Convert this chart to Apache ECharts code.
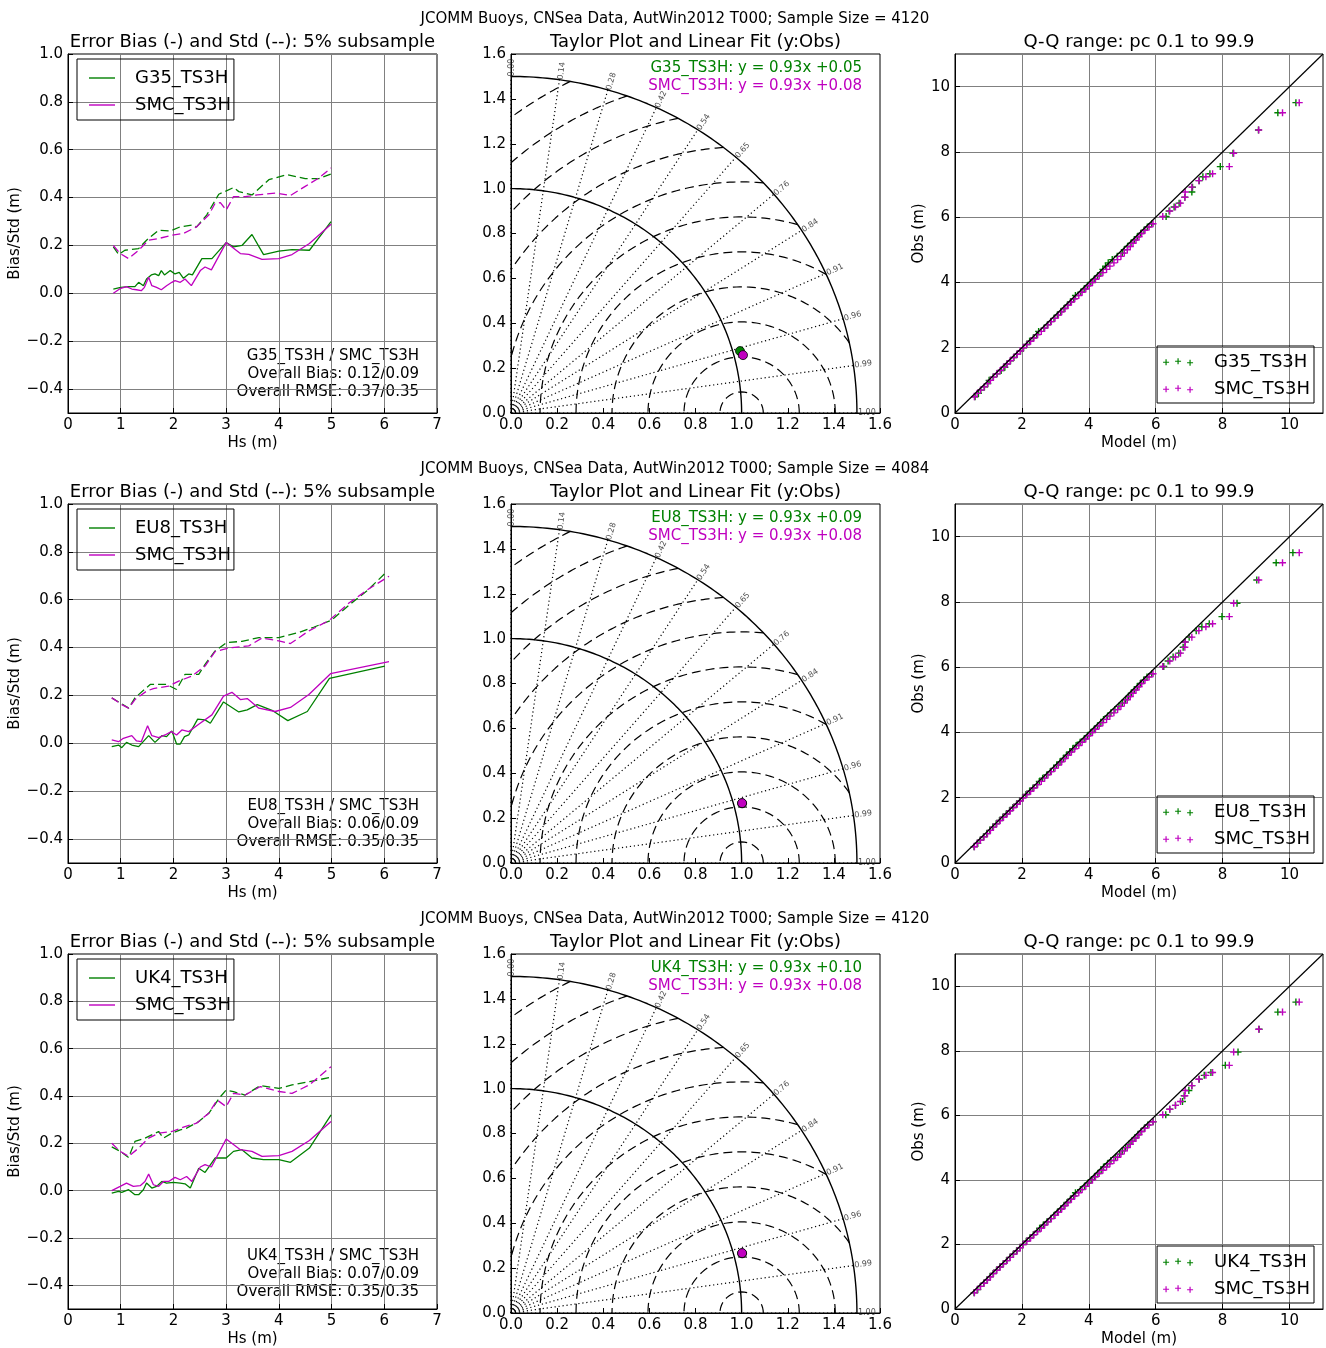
<!DOCTYPE html>
<html>
<head>
<meta charset="utf-8">
<script src="https://cdn.jsdelivr.net/npm/echarts@6/dist/echarts.min.js"></script>
<style>
  html, body { margin: 0; padding: 0; background: #fff; }
  #main { width: 1326px; height: 1348px; }
</style>
</head>
<body>
<div id="main"></div>
<script>
var chartDom = document.getElementById('main');
var myChart = echarts.init(chartDom);
var option;

// ---- labels and summary numbers ----
var rowModels = ['G35_TS3H', 'EU8_TS3H', 'UK4_TS3H'];
var refModel = 'SMC_TS3H';
var sampleSizes = [4120, 4084, 4120];
var overallBias = [['0.12', '0.09'], ['0.06', '0.09'], ['0.07', '0.09']];
var overallRmse = [['0.37', '0.35'], ['0.35', '0.35'], ['0.35', '0.35']];
var fitSlope = [['0.93', '0.93'], ['0.93', '0.93'], ['0.93', '0.93']];
var fitOffset = [['0.05', '0.08'], ['0.09', '0.08'], ['0.10', '0.08']];

// ---- tick labels ----
var biasTicks = [-0.4, -0.2, 0, 0.2, 0.4, 0.6, 0.8, 1.0];
var qqTicks = [0, 2, 4, 6, 8, 10];
var corrTicks = ['0.00', '0.14', '0.28', '0.42', '0.54', '0.65', '0.76', '0.84', '0.91', '0.96', '0.99', '1.00'];
var stdArcs = [1.0, 1.5];
var rmsArcs = [0.094, 0.25, 0.406, 0.562, 0.718, 0.874, 1.03, 1.186, 1.342, 1.498, 1.654];

// ---- row 1: bias / std against Hs ----
var biasG35 = [[0.86,0.018],[1.0,0.025],[1.15,0.028],[1.27,0.028],[1.34,0.046],[1.43,0.032],[1.49,0.06],[1.58,0.077],[1.65,0.081],[1.72,0.074],[1.77,0.095],[1.83,0.077],[1.94,0.095],[2.03,0.081],[2.11,0.088],[2.19,0.063],[2.29,0.081],[2.36,0.077],[2.54,0.145],[2.73,0.145],[3.0,0.212],[3.14,0.194],[3.30,0.20],[3.49,0.246],[3.71,0.162],[4.0,0.176],[4.25,0.183],[4.58,0.18],[4.99,0.30]];
var biasSMC1 = [[0.86,0.0],[1.0,0.021],[1.11,0.028],[1.21,0.018],[1.30,0.015],[1.39,0.011],[1.45,0.025],[1.53,0.067],[1.59,0.032],[1.68,0.025],[1.77,0.015],[1.87,0.032],[1.97,0.046],[2.03,0.053],[2.13,0.046],[2.22,0.06],[2.34,0.032],[2.51,0.095],[2.60,0.11],[2.72,0.098],[3.0,0.212],[3.27,0.166],[3.43,0.163],[3.68,0.142],[4.0,0.145],[4.25,0.162],[4.58,0.208],[4.99,0.289]];
var stdG35 = [[0.86,0.194],[0.96,0.162],[1.08,0.18],[1.34,0.187],[1.49,0.222],[1.72,0.264],[1.94,0.26],[2.13,0.278],[2.35,0.285],[2.44,0.278],[2.63,0.327],[2.86,0.414],[3.14,0.442],[3.24,0.425],[3.49,0.411],[3.81,0.475],[4.16,0.496],[4.50,0.479],[4.76,0.479],[4.99,0.499]];
var stdSMC1 = [[0.86,0.2],[0.99,0.166],[1.15,0.145],[1.34,0.18],[1.53,0.222],[1.72,0.229],[1.97,0.243],[2.19,0.25],[2.44,0.278],[2.67,0.327],[2.79,0.376],[2.89,0.379],[3.0,0.348],[3.14,0.404],[3.36,0.404],[3.59,0.411],[3.93,0.419],[4.22,0.409],[4.50,0.447],[4.76,0.482],[4.99,0.524]];

// ---- row 2 ----
var biasEU8 = [[0.83,-0.014],[0.96,-0.007],[1.02,-0.018],[1.11,0.004],[1.21,-0.007],[1.34,-0.014],[1.53,0.032],[1.65,0.004],[1.78,0.032],[1.87,0.028],[1.97,0.052],[2.06,-0.003],[2.13,-0.003],[2.21,0.028],[2.29,0.035],[2.46,0.101],[2.60,0.098],[2.70,0.084],[2.95,0.173],[3.24,0.131],[3.40,0.14],[3.59,0.162],[3.87,0.138],[4.17,0.095],[4.54,0.133],[4.96,0.271],[6.01,0.323]];
var biasSMC2 = [[0.83,0.014],[0.96,0.007],[1.05,0.021],[1.21,0.032],[1.30,0.01],[1.39,0.007],[1.51,0.073],[1.59,0.032],[1.72,0.024],[1.84,0.035],[1.96,0.049],[2.06,0.035],[2.16,0.056],[2.29,0.049],[2.48,0.08],[2.73,0.119],[2.95,0.197],[3.11,0.213],[3.27,0.183],[3.40,0.187],[3.62,0.147],[3.93,0.133],[4.22,0.15],[4.57,0.204],[4.98,0.291],[6.09,0.341]];
var stdEU8 = [[0.83,0.19],[0.99,0.169],[1.15,0.147],[1.27,0.19],[1.56,0.246],[1.87,0.246],[2.06,0.225],[2.22,0.288],[2.48,0.288],[2.60,0.33],[2.79,0.386],[3.01,0.421],[3.30,0.426],[3.62,0.442],[4.0,0.442],[4.38,0.463],[4.66,0.485],[5.0,0.515],[5.36,0.583],[5.68,0.639],[6.01,0.709]];
var stdSMC2 = [[0.83,0.19],[1.02,0.162],[1.15,0.147],[1.27,0.183],[1.49,0.218],[1.62,0.229],[1.91,0.239],[2.10,0.26],[2.35,0.281],[2.60,0.323],[2.79,0.383],[2.95,0.393],[3.11,0.40],[3.43,0.407],[3.68,0.44],[4.0,0.428],[4.22,0.417],[4.57,0.47],[4.95,0.513],[5.33,0.586],[5.71,0.646],[6.09,0.698]];

// ---- row 3 ----
var biasUK4 = [[0.83,-0.01],[0.96,-0.003],[1.02,-0.007],[1.15,0.004],[1.27,-0.017],[1.34,-0.017],[1.43,0.004],[1.49,0.032],[1.59,0.011],[1.68,0.018],[1.78,0.039],[1.87,0.032],[2.0,0.035],[2.13,0.032],[2.22,0.029],[2.32,0.011],[2.48,0.095],[2.60,0.077],[2.79,0.138],[3.0,0.138],[3.14,0.166],[3.30,0.173],[3.49,0.138],[3.71,0.131],[4.0,0.131],[4.22,0.12],[4.58,0.18],[4.99,0.32]];
var biasSMC3 = [[0.83,0.0],[0.99,0.018],[1.11,0.032],[1.24,0.018],[1.37,0.021],[1.46,0.039],[1.53,0.07],[1.62,0.025],[1.72,0.018],[1.81,0.039],[1.91,0.039],[2.03,0.056],[2.13,0.046],[2.25,0.06],[2.35,0.039],[2.51,0.10],[2.60,0.11],[2.72,0.10],[3.0,0.218],[3.27,0.173],[3.49,0.166],[3.68,0.145],[4.0,0.148],[4.25,0.166],[4.58,0.212],[4.99,0.292]];
var stdUK4 = [[0.83,0.185],[1.0,0.165],[1.15,0.14],[1.27,0.208],[1.46,0.222],[1.72,0.25],[1.81,0.222],[1.97,0.243],[2.13,0.257],[2.25,0.264],[2.48,0.292],[2.67,0.327],[2.89,0.397],[3.0,0.425],[3.14,0.418],[3.36,0.404],[3.65,0.444],[4.0,0.432],[4.25,0.447],[4.58,0.461],[4.99,0.479]];
var stdSMC3 = [[0.83,0.20],[0.99,0.166],[1.15,0.145],[1.34,0.18],[1.53,0.222],[1.72,0.243],[1.97,0.25],[2.22,0.271],[2.44,0.285],[2.67,0.327],[2.83,0.383],[3.0,0.355],[3.14,0.411],[3.36,0.404],[3.65,0.44],[4.0,0.419],[4.25,0.411],[4.58,0.447],[4.99,0.524]];

// ---- Taylor points [x, y] (normalised std * cos, std * sin) ----
var taylorModel = [[0.993, 0.276], [1.002, 0.266], [1.002, 0.266]];
var taylorRef = [[1.006, 0.258], [1.002, 0.267], [1.002, 0.267]];

// ---- Q-Q quantiles ----
var qqObs = [0.5,0.6,0.7,0.8,0.9,1.0,1.1,1.2,1.3,1.4,1.5,1.6,1.7,1.8,1.9,2.0,2.1,2.2,2.3,2.4,2.5,2.6,2.7,2.8,2.9,3.0,3.1,3.2,3.3,3.4,3.5,3.6,3.7,3.8,3.9,4.0,4.1,4.2,4.3,4.4,4.5,4.6,4.7,4.8,4.9,5.0,5.1,5.2,5.3,5.4,5.5,5.6,5.7,5.8,6.02,6.19,6.31,6.43,6.61,6.77,6.92,7.12,7.24,7.33,7.55,7.96,8.67,9.2,9.51];
var qqSMC = [0.58,0.66,0.76,0.87,0.97,1.06,1.15,1.25,1.35,1.45,1.56,1.65,1.75,1.86,1.95,2.04,2.15,2.26,2.36,2.47,2.58,2.68,2.78,2.88,2.99,3.09,3.19,3.29,3.38,3.48,3.58,3.70,3.80,3.91,4.01,4.11,4.20,4.31,4.42,4.53,4.63,4.75,4.86,4.96,5.06,5.15,5.24,5.32,5.41,5.50,5.58,5.68,5.80,5.92,6.21,6.42,6.59,6.74,6.87,6.88,7.08,7.29,7.50,7.70,8.20,8.33,9.08,9.79,10.29];
var qqG35 = [0.60,0.70,0.77,0.88,0.98,1.02,1.14,1.26,1.38,1.49,1.55,1.66,1.76,1.85,1.96,2.05,2.14,2.23,2.34,2.44,2.50,2.66,2.76,2.86,2.96,3.06,3.16,3.26,3.36,3.45,3.55,3.60,3.76,3.86,3.96,4.06,4.16,4.26,4.36,4.42,4.50,4.58,4.70,4.85,5.0,5.06,5.16,5.26,5.36,5.45,5.55,5.65,5.75,5.88,6.31,6.40,6.55,6.70,6.87,7.08,7.10,7.30,7.41,7.62,7.93,8.31,9.07,9.65,10.19];
var qqEU8 = [0.57,0.68,0.75,0.85,0.95,1.04,1.13,1.23,1.33,1.43,1.53,1.63,1.73,1.84,1.93,2.02,2.12,2.23,2.33,2.45,2.52,2.62,2.74,2.85,2.95,3.04,3.14,3.24,3.33,3.43,3.52,3.62,3.74,3.86,3.96,4.06,4.16,4.26,4.36,4.44,4.56,4.66,4.78,4.90,5.00,5.10,5.19,5.27,5.36,5.45,5.54,5.64,5.74,5.88,6.24,6.37,6.52,6.69,6.82,6.88,7.00,7.21,7.38,7.60,7.98,8.43,9.02,9.60,10.10];
var qqUK4 = [0.57,0.68,0.76,0.86,0.96,1.05,1.14,1.24,1.34,1.44,1.54,1.64,1.74,1.84,1.94,2.03,2.13,2.24,2.34,2.46,2.53,2.64,2.75,2.86,2.96,3.06,3.16,3.26,3.35,3.45,3.55,3.60,3.75,3.87,3.97,4.07,4.17,4.27,4.37,4.44,4.56,4.66,4.80,4.92,5.00,5.10,5.20,5.29,5.38,5.47,5.56,5.66,5.76,5.92,6.30,6.42,6.59,6.80,6.85,6.99,7.08,7.30,7.45,7.65,8.08,8.46,9.09,9.65,10.19];

var rowBias = [[biasG35, biasSMC1], [biasEU8, biasSMC2], [biasUK4, biasSMC3]];
var rowStd = [[stdG35, stdSMC1], [stdEU8, stdSMC2], [stdUK4, stdSMC3]];
var rowQQ = [qqG35, qqEU8, qqUK4];

// ---- style ----
var FONT = 'DejaVu Sans';
var GREEN = '#008000';
var MAGENTA = '#BF00BF';
var GRIDC = '#808080';
var colors = [GREEN, MAGENTA];
var plusSymbol = 'path://M0,2.4H6V3.6H0Z M2.4,0H3.6V6H2.4Z';
var plusLegend = 'path://M0,4.4H6V5.6H0Z M2.4,2H3.6V8H2.4Z M12,3.4H18V4.6H12Z M14.4,1H15.6V7H14.4Z M24,4.9H30V6.1H24Z M26.4,2.5H27.6V8.5H26.4Z';
var lineIcon = 'path://M0,0H26V1.4H0Z';

function fmt1(v) {
  var s = Number(v).toFixed(1);
  return s.charAt(0) === '-' ? '\u2212' + s.slice(1) : s;
}

function baseAxis(gi, min, max) {
  return {
    type: 'value', gridIndex: gi, min: min, max: max,
    axisLine: { show: true, onZero: false, lineStyle: { color: '#000', width: 1 } },
    axisTick: { show: true, inside: true, length: 5, lineStyle: { color: '#000', width: 1 } },
    axisLabel: { color: '#000', fontSize: 15, fontFamily: FONT, margin: 5 },
    splitLine: { show: false },
    nameLocation: 'middle',
    nameTextStyle: { color: '#000', fontSize: 15, fontFamily: FONT }
  };
}

function lineSeries(gi, data, color, dashed, name, width) {
  return {
    type: 'line', name: name, xAxisIndex: gi, yAxisIndex: gi, data: data,
    symbol: 'none', showSymbol: false, silent: true, color: color,
    lineStyle: { color: color, width: width || 1.3, type: dashed || 'solid' }
  };
}

var grids = [], xAxes = [], yAxes = [], series = [], legends = [], titles = [], graphics = [];
var colLeft = [68, 511, 955];
var colWidth = [369, 369, 368];
var panelTitles = ['Error Bias (-) and Std (--): 5% subsample', 'Taylor Plot and Linear Fit (y:Obs)', 'Q-Q range: pc 0.1 to 99.9'];

for (var r = 0; r < 3; r++) {
  var rowTop = 54 + 450 * r;
  var names = [rowModels[r], refModel];

  titles.push({
    text: 'JCOMM Buoys, CNSea Data, AutWin2012 T000; Sample Size = ' + sampleSizes[r],
    left: 675, top: rowTop - 42, textAlign: 'center', padding: 0,
    textStyle: { fontSize: 15, fontWeight: 'normal', fontFamily: FONT, color: '#000' }
  });
  for (var p = 0; p < 3; p++) {
    titles.push({
      text: panelTitles[p], left: colLeft[p] + colWidth[p] / 2, top: rowTop - 21,
      textAlign: 'center', padding: 0,
      textStyle: { fontSize: 18, fontWeight: 'normal', fontFamily: FONT, color: '#000' }
    });
    grids.push({ left: colLeft[p], top: rowTop, width: colWidth[p], height: 359,
      show: true, borderColor: '#000', borderWidth: 1, backgroundColor: 'transparent' });
  }

  // ---- panel 1: bias and std ----
  var g1 = r * 3;
  var xa = baseAxis(g1, 0, 7);
  xa.interval = 1;
  xa.splitLine = { show: true, lineStyle: { color: GRIDC, width: 1 } };
  xa.name = 'Hs (m)'; xa.nameGap = 23;
  xAxes.push(xa);
  var ya = baseAxis(g1, -0.5, 1.0);
  ya.axisLabel.customValues = biasTicks;
  ya.axisLabel.formatter = fmt1;
  ya.axisTick.customValues = biasTicks;
  ya.splitLine = { show: true, lineStyle: { color: GRIDC, width: 1 } };
  ya.name = 'Bias/Std (m)'; ya.nameGap = 43;
  yAxes.push(ya);
  for (var k = 0; k < 2; k++) {
    series.push(lineSeries(g1, rowBias[r][k], colors[k], 'solid', names[k]));
  }
  for (k = 0; k < 2; k++) {
    series.push(lineSeries(g1, rowStd[r][k], colors[k], [8, 4], names[k] + ' std'));
  }
  legends.push({
    left: 77, top: rowTop + 5, orient: 'vertical', selectedMode: false,
    borderColor: '#000', borderWidth: 1, padding: [10, 3, 6, 12], itemGap: 9,
    itemWidth: 26, itemHeight: 2,
    textStyle: { fontSize: 18, fontFamily: FONT, color: '#000', padding: [0, 0, 0, 15] },
    data: [
      { name: names[0], icon: lineIcon, itemStyle: { color: GREEN } },
      { name: names[1], icon: lineIcon, itemStyle: { color: MAGENTA } }
    ]
  });
  graphics.push({
    type: 'text', x: 419, y: rowTop + 293,
    style: {
      text: names[0] + ' / ' + names[1] + '\nOverall Bias: ' + overallBias[r][0] + '/' + overallBias[r][1] +
        '\nOverall RMSE: ' + overallRmse[r][0] + '/' + overallRmse[r][1],
      textAlign: 'right', font: '15px "' + FONT + '"', lineHeight: 18, fill: '#000'
    }
  });

  // ---- panel 2: Taylor diagram ----
  var g2 = r * 3 + 1;
  var tx = baseAxis(g2, 0, 1.6);
  tx.interval = 0.2; tx.axisLabel.formatter = fmt1;
  xAxes.push(tx);
  var ty = baseAxis(g2, 0, 1.6);
  ty.interval = 0.2; ty.axisLabel.formatter = fmt1;
  yAxes.push(ty);

  stdArcs.forEach(function (rad) {
    var pts = [];
    for (var i = 0; i <= 120; i++) {
      var th = Math.PI / 2 * i / 120;
      pts.push([rad * Math.cos(th), rad * Math.sin(th)]);
    }
    series.push(lineSeries(g2, pts, '#000', 'solid', 'std' + rad, 1.4));
  });
  var rmax = stdArcs[stdArcs.length - 1];
  rmsArcs.forEach(function (rho) {
    var lo = Math.acos(Math.min(1, (rmax * rmax - 1 - rho * rho) / (2 * rho)));
    var hi = Math.acos(Math.max(-1, -1 / rho));
    var pts = [];
    for (var i = 0; i <= 100; i++) {
      var ph = lo + (hi - lo) * i / 100;
      pts.push([1 + rho * Math.cos(ph), rho * Math.sin(ph)]);
    }
    series.push(lineSeries(g2, pts, '#000', [9, 5], 'rms' + rho, 1.2));
  });
  var corrLabels = [];
  corrTicks.forEach(function (c) {
    var th = Math.acos(parseFloat(c));
    series.push(lineSeries(g2, [[0, 0], [rmax * Math.cos(th), rmax * Math.sin(th)]], '#000', [1.2, 2.8], 'corr' + c, 1.2));
    corrLabels.push({ name: c, value: [rmax * Math.cos(th), rmax * Math.sin(th)],
      label: { rotate: th * 180 / Math.PI } });
  });
  series.push({
    type: 'scatter', xAxisIndex: g2, yAxisIndex: g2, symbolSize: 0, silent: true,
    data: corrLabels,
    label: { show: true, position: 'right', distance: 1, formatter: '{b}', align: 'left',
      verticalAlign: 'middle', fontSize: 8, fontFamily: FONT, color: '#222' }
  });
  var tpts = [taylorModel[r], taylorRef[r]];
  for (k = 0; k < 2; k++) {
    series.push({
      type: 'scatter', name: names[k] + ' taylor', xAxisIndex: g2, yAxisIndex: g2,
      data: [tpts[k]], symbol: 'circle', symbolSize: 9, z: 5,
      itemStyle: { color: colors[k], borderColor: '#000', borderWidth: 0.8, opacity: 1 }
    });
  }
  graphics.push({
    type: 'text', x: 862, y: rowTop + 7,
    style: { text: names[0] + ': y = ' + fitSlope[r][0] + 'x +' + fitOffset[r][0],
      textAlign: 'right', font: '15px "' + FONT + '"', fill: GREEN }
  });
  graphics.push({
    type: 'text', x: 862, y: rowTop + 25,
    style: { text: names[1] + ': y = ' + fitSlope[r][1] + 'x +' + fitOffset[r][1],
      textAlign: 'right', font: '15px "' + FONT + '"', fill: MAGENTA }
  });

  // ---- panel 3: Q-Q ----
  var g3 = r * 3 + 2;
  var qx = baseAxis(g3, 0, 11);
  qx.axisLabel.customValues = qqTicks; qx.axisTick.customValues = qqTicks;
  qx.splitLine = { show: true, lineStyle: { color: GRIDC, width: 1 } };
  qx.name = 'Model (m)'; qx.nameGap = 23;
  xAxes.push(qx);
  var qy = baseAxis(g3, 0, 11);
  qy.axisLabel.customValues = qqTicks; qy.axisTick.customValues = qqTicks;
  qy.splitLine = { show: true, lineStyle: { color: GRIDC, width: 1 } };
  qy.name = 'Obs (m)'; qy.nameGap = 27;
  yAxes.push(qy);
  series.push(lineSeries(g3, [[0, 0], [11, 11]], '#000', 'solid', 'diag', 1.2));
  var qqModels = [rowQQ[r], qqSMC];
  for (k = 0; k < 2; k++) {
    var pts = qqModels[k].map(function (v, i) { return [v, qqObs[i]]; });
    series.push({
      type: 'scatter', name: names[k], xAxisIndex: g3, yAxisIndex: g3, data: pts,
      symbol: plusSymbol, symbolSize: 7, silent: true, color: colors[k],
      itemStyle: { color: colors[k], opacity: 1 }
    });
  }
  legends.push({
    right: 12, top: rowTop + 292, orient: 'vertical', selectedMode: false,
    borderColor: '#000', borderWidth: 1, padding: [7, 4, 5, 6], itemGap: 9,
    itemWidth: 30, itemHeight: 8,
    textStyle: { fontSize: 18, fontFamily: FONT, color: '#000', padding: [0, 0, 0, 16] },
    data: [
      { name: names[0], icon: plusLegend, itemStyle: { color: GREEN } },
      { name: names[1], icon: plusLegend, itemStyle: { color: MAGENTA } }
    ]
  });
}

option = {
  animation: false,
  backgroundColor: '#fff',
  title: titles,
  legend: legends,
  grid: grids,
  xAxis: xAxes,
  yAxis: yAxes,
  series: series,
  graphic: graphics
};

if (chartDom && myChart) {
  myChart.setOption(option);
} else {
  console.error('Failed to initialize the chart');
}
</script>
</body>
</html>
